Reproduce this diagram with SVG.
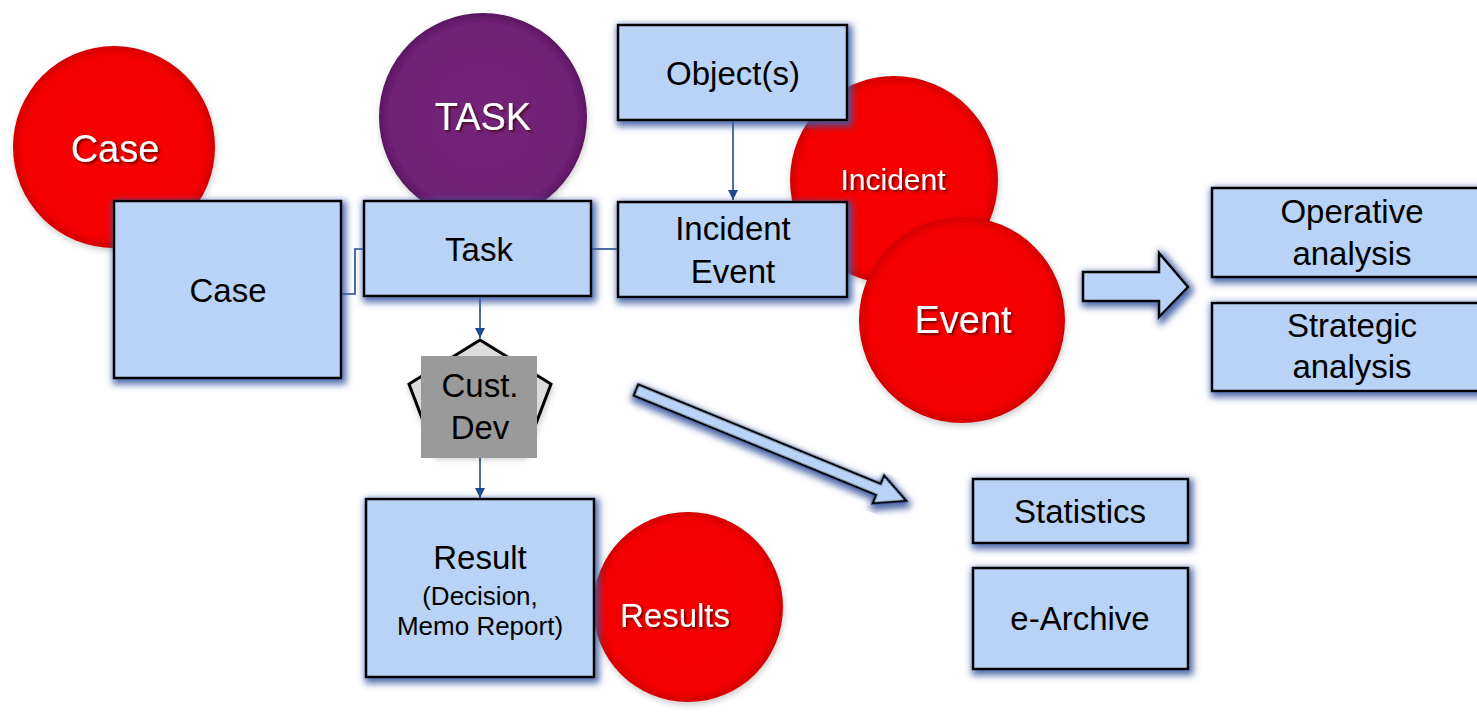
<svg xmlns="http://www.w3.org/2000/svg" width="1477" height="716" viewBox="0 0 1477 716">
<defs>
<filter id="glow" x="-20%" y="-20%" width="140%" height="150%">
<feMorphology in="SourceAlpha" operator="dilate" radius="2" result="d"/>
<feGaussianBlur in="d" stdDeviation="3.5" result="b"/>
<feOffset in="b" dx="2" dy="3" result="o"/>
<feFlood flood-color="#3a5aa0" flood-opacity="0.9"/>
<feComposite in2="o" operator="in" result="s"/>
<feMerge><feMergeNode in="s"/><feMergeNode in="SourceGraphic"/></feMerge>
</filter>
<filter id="cshadow" x="-20%" y="-20%" width="140%" height="140%">
<feGaussianBlur in="SourceAlpha" stdDeviation="3" result="b"/>
<feOffset in="b" dx="1" dy="3" result="o"/>
<feFlood flood-color="#000" flood-opacity="0.2"/>
<feComposite in2="o" operator="in" result="s"/>
<feMerge><feMergeNode in="s"/><feMergeNode in="SourceGraphic"/></feMerge>
</filter>
<filter id="tshadow" x="-10%" y="-20%" width="120%" height="150%">
<feGaussianBlur in="SourceAlpha" stdDeviation="1" result="b"/>
<feOffset in="b" dx="1.5" dy="2" result="o"/>
<feFlood flood-color="#400" flood-opacity="0.7"/>
<feComposite in2="o" operator="in" result="s"/>
<feMerge><feMergeNode in="s"/><feMergeNode in="SourceGraphic"/></feMerge>
</filter>
<radialGradient id="red" cx="50%" cy="50%" r="50%">
<stop offset="0" stop-color="#fa0000"/>
<stop offset="0.9" stop-color="#f40000"/>
<stop offset="1" stop-color="#d20000"/>
</radialGradient>
<radialGradient id="purple" cx="50%" cy="50%" r="50%">
<stop offset="0" stop-color="#74237a"/>
<stop offset="0.9" stop-color="#702076"/>
<stop offset="1" stop-color="#5a1760"/>
</radialGradient>
<marker id="ah" viewBox="0 0 10 10" refX="10" refY="5" markerWidth="10" markerHeight="10" markerUnits="userSpaceOnUse" orient="auto">
<path d="M0,0 L10,5 L0,10 z" fill="#1f4a8f"/>
</marker>
</defs>
<style>
.box{fill:#b8d3f5;stroke:#000;stroke-width:2.5;filter:url(#glow)}
.red{fill:url(#red);filter:url(#cshadow)}
.pur{fill:url(#purple);filter:url(#cshadow)}
.bt{font-family:"Liberation Sans",Arial,sans-serif;font-size:33px;fill:#000;text-anchor:middle}
.st{font-family:"Liberation Sans",Arial,sans-serif;font-size:26px;fill:#000;text-anchor:middle}
.ct{font-family:"Liberation Sans",Arial,sans-serif;fill:#fff;text-anchor:middle;filter:url(#tshadow)}
.con{fill:none;stroke:#1f4a8f;stroke-width:1.6}
.bigarrow{fill:#b8d3f5;stroke:#000;stroke-width:2.5;stroke-linejoin:miter;filter:url(#glow)}
</style>
<rect width="1477" height="716" fill="#fff"/>

<g id="case-circle"><circle class="red" cx="114" cy="147" r="101"/><text class="ct" x="115" y="162" font-size="38">Case</text></g>
<g id="task-circle"><circle class="pur" cx="483" cy="117" r="104"/><text class="ct" x="483" y="130" font-size="38">TASK</text></g>
<g id="incident-circle"><circle class="red" cx="894" cy="180" r="104"/><text class="ct" x="893" y="190" font-size="30">Incident</text></g>
<g id="event-circle"><circle class="red" cx="962" cy="320" r="103"/><text class="ct" x="963" y="333" font-size="38">Event</text></g>
<g id="results-circle"><circle class="red" cx="688" cy="607" r="95"/><text class="ct" x="675" y="627" font-size="33">Results</text></g>

<g id="connectors">
<path class="con" d="M341,294 H355 V249 H364"/>
<path class="con" d="M591,249 H618"/>
<path class="con" d="M733,120 V200" marker-end="url(#ah)"/>
<path class="con" d="M480,296 V338" marker-end="url(#ah)"/>
<path class="con" d="M480,458 V498" marker-end="url(#ah)"/>
</g>

<g id="case-box"><rect class="box" x="114" y="201" width="227" height="177"/><text class="bt" x="228" y="302">Case</text></g>
<g id="task-box"><rect class="box" x="364" y="201" width="227" height="95"/><text class="bt" x="479" y="261">Task</text></g>
<g id="objects-box"><rect class="box" x="618" y="25" width="229" height="95"/><text class="bt" x="733" y="85">Object(s)</text></g>
<g id="incident-event-box"><rect class="box" x="618" y="202" width="229" height="95"/><text class="bt" x="733" y="240">Incident</text><text class="bt" x="733" y="283">Event</text></g>

<g id="cust-dev">
<polygon points="480,340 551,384 524,455 436,455 409,384" fill="#dcdcdc" stroke="#000" stroke-width="3" filter="url(#cshadow)"/>
<rect x="421" y="356" width="116" height="102" fill="#9a9a9a"/>
<text class="bt" x="480" y="397">Cust.</text><text class="bt" x="480" y="439">Dev</text>
</g>

<g id="result-box"><rect class="box" x="366" y="499" width="228" height="178"/><text class="bt" x="480" y="569">Result</text><text class="st" x="480" y="605">(Decision,</text><text class="st" x="480" y="635">Memo Report)</text></g>

<g id="right-arrow"><path class="bigarrow" d="M1083,272 H1159 V253 L1188,287 L1159,317 V301 H1083 z"/></g>
<g id="diag-arrow"><path class="bigarrow" transform="translate(636,390) rotate(22.3)" d="M0,-6 H262 V-15 L292,0 L262,15 V6 H0 z"/></g>

<g id="operative-box"><rect class="box" x="1212" y="188" width="290" height="89"/><text class="bt" x="1352" y="223">Operative</text><text class="bt" x="1352" y="265">analysis</text></g>
<g id="strategic-box"><rect class="box" x="1212" y="303" width="290" height="88"/><text class="bt" x="1352" y="337">Strategic</text><text class="bt" x="1352" y="378">analysis</text></g>
<g id="statistics-box"><rect class="box" x="973" y="479" width="215" height="64"/><text class="bt" x="1080" y="523">Statistics</text></g>
<g id="earchive-box"><rect class="box" x="973" y="568" width="215" height="101"/><text class="bt" x="1080" y="630">e-Archive</text></g>
</svg>
